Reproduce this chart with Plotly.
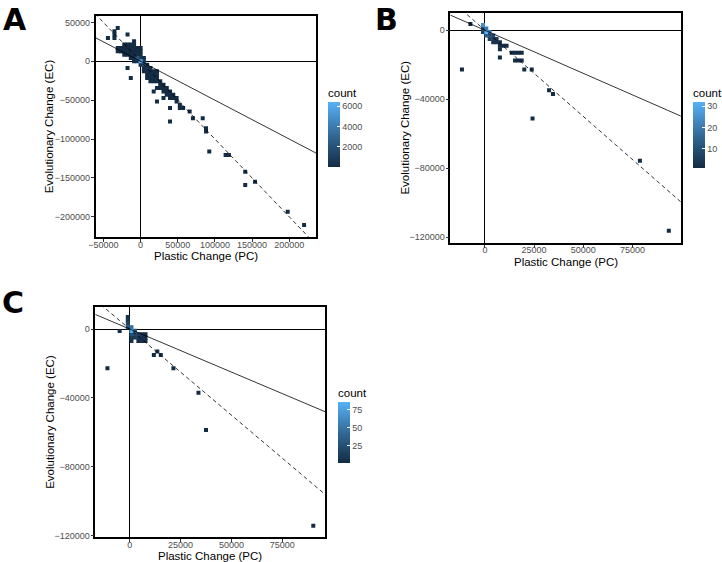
import numpy as np
import plotly.graph_objects as go

# panel A: 2d bin centres and counts
a_x = [-44000, -35200, -35200, -30800, -35200, -17600, -8800, -13200, -17600, -13200,
       -30800, -26400, -26400, -22000, -22000, -22000, -17600, -17600, -17600, -17600,
       -13200, -13200, -13200, -13200, -8800, -8800, -8800, -8800, -8800,
       -4400, -4400, -4400, -4400, -4400, 0, 0, 0, 0, 0, 0,
       4400, 4400, 4400, 4400, 8800, 8800, 8800, 8800,
       13200, 13200, 13200, 13200, 17600, 17600, 17600, 17600,
       22000, 22000, 22000, 26400, 26400, 26400, 30800, 30800, 30800,
       35200, 35200, 35200, 39600, 39600, 39600, 44000, 44000, 48400, 48400, 52800,
       17600, 22000, 30800, 22000, 39600, 39600, 52800, 57200, 66000, 70400, 83600,
       88000, 88000, 92400, 114400, 118800, 140800, 140800, 154000, 198000, 220000,
       -26400, -22000, -30800, -8800, 4400, 8800, 13200, 22000]
a_y = [30100, 38700, 34400, 43000, 30100, 34400, 25800, 21500, -8600, -21500,
       17200, 17200, 12900, 12900, 17200, 8600, 8600, 12900, 17200, 21500,
       4300, 8600, 12900, 17200, 0, 4300, 8600, 12900, 17200,
       0, 4300, 8600, 12900, 17200, -4300, 0, 4300, 8600, 12900, 17200,
       -4300, 0, -8600, 4300, -4300, -8600, -12900, -17200,
       -8600, -12900, -17200, -21500, -12900, -17200, -21500, -25800,
       -17200, -21500, -25800, -25800, -30100, -34400, -30100, -34400, -38700,
       -34400, -38700, -43000, -38700, -43000, -47300, -43000, -47300, -47300, -51600, -55900,
       -38700, -34400, -47300, -51600, -60200, -77400, -60200, -60200, -64500, -73100, -73100,
       -86000, -90300, -116100, -120400, -120400, -141900, -159100, -154800, -193500, -210700,
       12900, 21500, 12900, 21500, -12900, -21500, -25800, -12900]
a_count = [1, 2, 3, 1, 2, 1, 2, 3, 1, 1,
           5, 8, 6, 15, 6, 4, 20, 18, 5, 3,
           30, 45, 25, 10, 20, 80, 60, 25, 12,
           400, 2200, 200, 40, 10, 500, 6400, 600, 90, 20, 8,
           1500, 700, 150, 60, 200, 300, 90, 20,
           80, 120, 50, 20, 40, 60, 30, 10,
           20, 25, 12, 8, 6, 3, 5, 4, 2,
           3, 2, 2, 2, 2, 1, 1, 1, 1, 1, 1,
           1, 2, 1, 1, 1, 1, 1, 1, 1, 1, 1,
           1, 1, 1, 1, 1, 1, 1, 1, 1, 1,
           3, 2, 2, 4, 40, 8, 6, 6]

# panel B
b_x = [-7400, -11700, -1000, -1000, -1000, 700, 700, 700, 2400, 2400, 2400,
       4200, 4200, 4200, 5900, 5900, 7600, 7600, 7600, 7600, 9300, 11000,
       13600, 15300, 17000, 18700, 15300, 17000, 18700, 20000, 23800, 24200,
       32600, 34600, 78800, 93500]
b_y = [3700, -22800, 3000, 1000, -1000, 1000, -1000, -3000, -1000, -3000, -5000,
       -3000, -5000, -7000, -5000, -7000, -7000, -9000, -11000, -15800, -9000, -9000,
       -13000, -13000, -13000, -13000, -17600, -17600, -17600, -22800, -22800, -51200,
       -34800, -37000, -75700, -116300]
b_count = [1, 1, 24, 12, 6, 20, 32, 14, 18, 12, 6,
           8, 5, 3, 4, 3, 2, 2, 1, 1, 1, 1,
           1, 1, 1, 1, 1, 1, 1, 1, 1, 1,
           1, 1, 1, 1]

# panel C
c_x = [-10900, -4900, -900, -900, -900, -900, 900, 900, 900, 900, 900,
       2600, 2600, 2600, 4300, 4300, 4300, 6100, 6100, 6100, 7800, 7800, 7800,
       11900, 13600, 15300, 21500, 33800, 37500, 90200]
c_y = [-22800, -1200, 7000, 5000, 3000, 1000, 1000, -1000, -3000, -5000, -7000,
       -1000, -3000, -5000, -3000, -5000, -7000, -3000, -5000, -7000, -3000, -5000, -7000,
       -15100, -13100, -15100, -22800, -37000, -58600, -114200]
c_count = [1, 2, 6, 10, 18, 30, 45, 86, 25, 12, 6,
           30, 20, 10, 12, 8, 3, 6, 5, 3, 2, 3, 2,
           1, 1, 1, 1, 1, 1, 1]

ref_slopes = [-1.0, -0.5]
ref_dash = ["4px,3px", "solid"]

W, H = 722, 562


def px(v):
    return v / W


def py(v):
    return 1 - v / H


panels = [
    dict(x=a_x, y=a_y, c=a_count, letter="A",
         box=(96, 317, 16, 237),
         xr=[-60400, 236200], yr=[-226000, 58300],
         xt=[-50000, 0, 50000, 100000, 150000, 200000],
         yt=[-200000, -150000, -100000, -50000, 0, 50000],
         cmax=6400, ct=[2000, 4000, 6000],
         cb=(329, 103, 165), lab=(15, 19), xtitle_y=256, ytitle_x=50),
    dict(x=b_x, y=b_y, c=b_count, letter="B",
         box=(451.7, 682.7, 12.7, 242.7),
         xr=[-17550, 99600], yr=[-123300, 10200],
         xt=[0, 25000, 50000, 75000], yt=[-120000, -80000, -40000, 0],
         cmax=32, ct=[10, 20, 30],
         cb=(695, 103, 166), lab=(388, 20), xtitle_y=261.5, ytitle_x=406),
    dict(x=c_x, y=c_y, c=c_count, letter="C",
         box=(95.7, 326, 306.7, 537.3),
         xr=[-16800, 96000], yr=[-120900, 12950],
         xt=[0, 25000, 50000, 75000], yt=[-120000, -80000, -40000, 0],
         cmax=86, ct=[25, 50, 75],
         cb=(339, 403, 461), lab=(13, 302), xtitle_y=555.5, ytitle_x=50),
]

scale = [[0, "#132B43"], [0.5, "#336A98"], [1, "#56B1F7"]]
tick_font = dict(family="Liberation Sans", size=9, color="#4d4d4d")
title_font = dict(family="Liberation Sans", size=11.5, color="black")

fig = go.Figure()
layout = dict(width=W, height=H, margin=dict(l=0, r=0, t=0, b=0),
              paper_bgcolor="white", plot_bgcolor="white", showlegend=False,
              annotations=[])

for k, p in enumerate(panels):
    n = "" if k == 0 else str(k + 1)
    xa, ya, ca = "x" + n, "y" + n, "coloraxis" + n
    order = np.argsort(p["c"], kind="stable")
    fig.add_trace(go.Scatter(
        x=np.array(p["x"])[order], y=np.array(p["y"])[order], mode="markers",
        xaxis=xa, yaxis=ya,
        marker=dict(symbol="square", size=4, color=np.array(p["c"])[order],
                    coloraxis=ca, line=dict(width=0)),
    ))
    span = np.array([-400000, 400000])
    for s, d in zip(ref_slopes, ref_dash):
        fig.add_trace(go.Scatter(x=span, y=s * span, mode="lines", xaxis=xa, yaxis=ya,
                                 line=dict(color="black", width=0.8, dash=d),
                                 hoverinfo="skip"))
    x0, x1, y0, y1 = p["box"]
    common = dict(showgrid=False, zeroline=True, zerolinecolor="black", zerolinewidth=0.8,
                  showline=True, mirror=True, linecolor="black", linewidth=1.6,
                  ticks="outside", ticklen=3, tickcolor="#333333", tickfont=tick_font,
                  tickformat="d", automargin=False)
    layout["xaxis" + n] = dict(common, domain=[px(x0), px(x1)], range=p["xr"],
                               tickvals=p["xt"], anchor=ya, ticklabelstandoff=-5)
    layout["yaxis" + n] = dict(common, domain=[py(y1), py(y0)], range=p["yr"],
                               tickvals=p["yt"], anchor=xa, ticklabelstandoff=-1)
    cx, ct, cbot = p["cb"]
    # the colorbar box also holds the title on top, so extend it upwards
    top, bot = ct - 18, cbot + 2
    layout[ca] = dict(
        colorscale=scale, cmin=1, cmax=p["cmax"],
        colorbar=dict(x=px(cx), xanchor="left", y=py((top + bot) / 2), yanchor="middle",
                      len=bot - top, lenmode="pixels", thickness=12, xpad=0, ypad=0,
                      outlinewidth=0, tickvals=p["ct"], ticks="inside", ticklen=3,
                      tickcolor="white",
                      tickfont=dict(family="Liberation Sans", size=9, color="#4d4d4d"),
                      title=dict(text="count", side="top",
                                 font=dict(family="Liberation Sans", size=11.5, color="black"))),
    )
    layout["annotations"] += [
        dict(text="<b>%s</b>" % p["letter"], xref="paper", yref="paper", showarrow=False,
             x=px(p["lab"][0]), y=py(p["lab"][1]), xanchor="center", yanchor="middle",
             font=dict(family="DejaVu Sans", size=30, color="black")),
        dict(text="Plastic Change (PC)", xref="paper", yref="paper", showarrow=False,
             x=px((x0 + x1) / 2), y=py(p["xtitle_y"]), xanchor="center", yanchor="middle",
             font=title_font),
        dict(text="Evolutionary Change (EC)", xref="paper", yref="paper", showarrow=False,
             x=px(p["ytitle_x"]), y=py((y0 + y1) / 2), xanchor="center", yanchor="middle",
             textangle=-90, font=title_font),
    ]

fig.update_layout(**layout)
# drop the default 8px page margin so the figure fills the window; no mode bar
fig.write_html("out.html", config={"displayModeBar": False},
               post_script="document.body.style.margin='0';")
